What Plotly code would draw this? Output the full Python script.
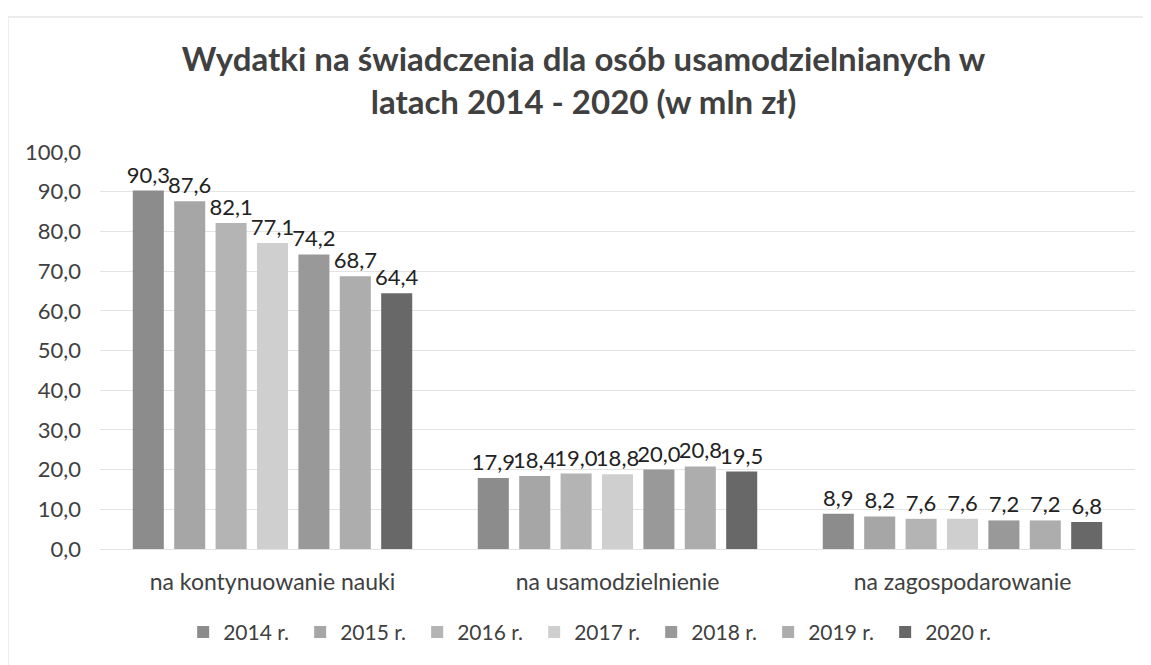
import plotly.graph_objects as go

categories = ["na kontynuowanie nauki", "na usamodzielnienie", "na zagospodarowanie"]
years = ["2014 r.", "2015 r.", "2016 r.", "2017 r.", "2018 r.", "2019 r.", "2020 r."]
v2014 = [90.3, 17.9, 8.9]
v2015 = [87.6, 18.4, 8.2]
v2016 = [82.1, 19.0, 7.6]
v2017 = [77.1, 18.8, 7.6]
v2018 = [74.2, 20.0, 7.2]
v2019 = [68.7, 20.8, 7.2]
v2020 = [64.4, 19.5, 6.8]
series = [v2014, v2015, v2016, v2017, v2018, v2019, v2020]
colors = ["#8c8c8c", "#a6a6a6", "#b4b4b4", "#cfcfcf", "#999999", "#adadad", "#686868"]

FONT = "Lato"
fig = go.Figure()
for name, vals, c in zip(years, series, colors):
    fig.add_trace(go.Bar(
        x=categories, y=vals, name=name,
        marker=dict(color=c, line=dict(width=0)),
        texttemplate="%{y:.1f}", textposition="outside", cliponaxis=False,
        constraintext="none", textangle=0,
        textfont=dict(family=FONT, size=22, color="#222222"),
    ))

fig.update_layout(
    width=1151, height=665,
    paper_bgcolor="white", plot_bgcolor="white",
    separators=", ",
    barmode="group", bargap=0.16, bargroupgap=0.25,
    margin=dict(l=92, r=24, t=144, b=124),
    title=dict(
        text="<b>Wydatki na świadczenia dla osób usamodzielnianych w<br>latach 2014 - 2020 (w mln zł)</b>",
        x=0.5, xanchor="center", y=0.905, yanchor="top",
        font=dict(family=FONT, size=33, color="#404040"),
    ),
    yaxis=dict(range=[0, 100], dtick=10, tickformat=".1f",
               showgrid=True, gridcolor="#e3e3e3", gridwidth=1,
               zeroline=False, showline=False,
               tickfont=dict(family=FONT, size=22, color="#404040"),
               ticklabelstandoff=18),
    xaxis=dict(showline=True, linecolor="#e3e3e3", ticklabelstandoff=12,
               tickfont=dict(family=FONT, size=23, color="#404040")),
    legend=dict(orientation="h", x=0.476, xanchor="center", y=-0.21, yanchor="middle",
                font=dict(family=FONT, size=21, color="#404040"),
                itemwidth=30, traceorder="normal",
                entrywidth=72, entrywidthmode="pixels"),
    showlegend=True,
)
fig.add_shape(type="rect", xref="paper", yref="paper",
              x0=-0.089, x1=1.1, y0=-0.6, y1=1.34,
              line=dict(color="#ececec", width=2))
fig.write_html("out.html")
